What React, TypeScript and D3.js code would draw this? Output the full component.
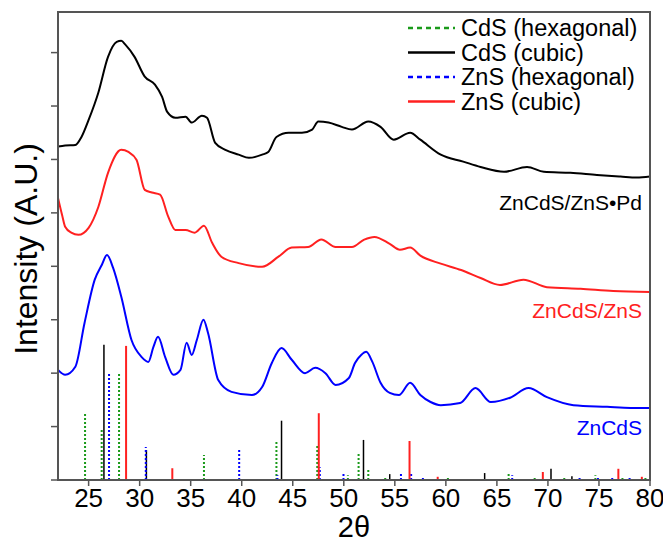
import React from "react";
import * as d3 from "d3";

// XRD patterns (2θ in degrees, intensity in arbitrary units, offset stacked)
const pdAngle = [22.0, 22.7, 23.7, 24.3, 25.0, 25.95, 26.9, 27.75, 28.2, 28.6, 29.5, 30.5, 31.5, 32.2, 32.7, 33.5, 34.5, 35.1, 36.1, 36.6, 37.4, 38.4, 39.7, 40.7, 42.0, 42.6, 43.4, 44.6, 45.9, 46.9, 47.5, 48.5, 49.8, 50.8, 52.4, 53.6, 54.9, 56.5, 57.5, 59.5, 61.7, 63.4, 65.7, 67.95, 69.6, 72.2, 74.8, 77.1, 78.7, 80.0];
const pdIntensity = [624, 626, 627, 642, 674, 725, 792, 820, 822, 815, 792, 755, 740, 717, 689, 678, 680, 669, 682, 678, 631, 618, 609, 603, 609, 614, 642, 650, 650, 656, 671, 669, 661, 656, 671, 661, 637, 650, 637, 609, 596, 586, 577, 586, 577, 575, 571, 568, 566, 568];

const shellAngle = [22.0, 22.4, 22.7, 23.3, 24.0, 25.0, 25.95, 26.9, 28.2, 28.9, 29.7, 30.5, 31.2, 32.0, 32.8, 33.5, 34.5, 35.4, 36.3, 37.1, 38.0, 39.7, 42.0, 43.6, 44.9, 46.5, 47.8, 49.2, 50.8, 52.0, 53.0, 54.5, 55.5, 56.5, 57.5, 59.5, 61.5, 63.4, 65.3, 67.6, 69.9, 73.2, 76.4, 80.0];
const shellIntensity = [528, 496, 474, 463, 459, 472, 511, 575, 618, 614, 599, 543, 538, 534, 493, 468, 468, 463, 476, 444, 418, 406, 399, 418, 435, 436, 450, 436, 436, 450, 455, 442, 431, 435, 420, 405, 393, 378, 365, 375, 361, 358, 354, 352];

const coreAngle = [22.0, 22.7, 23.7, 24.6, 25.6, 26.3, 26.8, 27.4, 28.2, 29.2, 30.2, 30.85, 31.35, 31.8, 32.5, 33.3, 34.0, 34.6, 35.1, 35.6, 36.25, 36.7, 37.7, 39.0, 41.0, 42.0, 42.95, 43.9, 44.9, 46.2, 47.2, 48.2, 49.2, 50.5, 51.1, 51.7, 52.2, 52.8, 53.6, 54.5, 55.4, 56.5, 57.5, 58.5, 59.5, 61.4, 62.9, 64.4, 66.3, 68.1, 69.9, 72.5, 75.8, 78.1, 80.0];
const coreIntensity = [206, 197, 212, 294, 375, 403, 421, 397, 343, 262, 230, 221, 249, 268, 230, 197, 206, 257, 234, 262, 300, 275, 187, 165, 159, 174, 219, 247, 225, 200, 210, 200, 178, 191, 219, 234, 240, 221, 182, 163, 159, 182, 159, 146, 140, 144, 172, 146, 154, 172, 155, 140, 137, 135, 135];

// Reference reflections
const cdsHexPos = [24.65, 26.28, 27.98, 36.3, 43.4, 47.4, 50.4, 51.45, 52.4, 54.06, 60.2, 66.15, 68.7, 71.6, 74.65, 77.3, 79.55];
const cdsHexInt = [125, 94, 200, 47, 75, 66, 9, 51, 22, 4, 4, 15, 6, 6, 9, 4, 6];
const cdsCubPos = [26.5, 30.66, 43.9, 51.93, 54.5, 63.8, 70.3, 72.35];
const cdsCubInt = [253, 56, 111, 75, 11, 13, 21, 7];
const znsHexPos = [27.0, 30.6, 39.75, 43.5, 47.65, 49.97, 55.6, 56.6, 57.75, 66.5, 73.1, 74.9, 76.3, 78.0];
const znsHexInt = [202, 62, 56, 9, 24, 11, 15, 13, 6, 9, 6, 6, 6, 4];
const znsCubPos = [28.67, 33.2, 47.55, 56.44, 59.2, 69.5, 76.9, 79.2];
const znsCubInt = [251, 22, 125, 73, 6, 15, 21, 6];

const xTicks = [25, 30, 35, 40, 45, 50, 55, 60, 65, 70, 75, 80];
const yTicks = [0, 100, 200, 300, 400, 500, 600, 700, 800];

const legendLabels = ["CdS (hexagonal)", "CdS (cubic)", "ZnS (hexagonal)", "ZnS (cubic)"];
const seriesLabels = ["ZnCdS/ZnS\u2022Pd", "ZnCdS/ZnS", "ZnCdS"];

const W = 663;
const H = 542;
const M = { left: 58, right: 13, top: 12, bottom: 62 };

const GREEN = "#1a9a1a";
const BLUE = "#0000ff";
const RED = "#ff2020";
const BLACK = "#000000";
const AXIS = "#555555";
const FONT = "Liberation Sans, Arial, sans-serif";

export default function App() {
  const x = d3.scaleLinear().domain([22, 80]).range([M.left, W - M.right]);
  const y = d3.scaleLinear().domain([0, 876]).range([H - M.bottom, M.top]);

  const line = (ax: number[], iy: number[]) =>
    d3
      .line<number>()
      .x((_, i) => x(ax[i]))
      .y((v) => y(v))
      .curve(d3.curveMonotoneX)(iy) as string;

  const patterns = [
    { ax: pdAngle, iy: pdIntensity, color: BLACK },
    { ax: shellAngle, iy: shellIntensity, color: RED },
    { ax: coreAngle, iy: coreIntensity, color: BLUE },
  ];

  const sticks = [
    { pos: cdsHexPos, int: cdsHexInt, color: GREEN, dash: "2,2", w: 2 },
    { pos: cdsCubPos, int: cdsCubInt, color: BLACK, dash: null, w: 1.5 },
    { pos: znsHexPos, int: znsHexInt, color: BLUE, dash: "2,2", w: 2 },
    { pos: znsCubPos, int: znsCubInt, color: RED, dash: null, w: 2 },
  ];
  const legendStyle = [
    { color: GREEN, dash: "5,4" },
    { color: BLACK, dash: null },
    { color: BLUE, dash: "5,4" },
    { color: RED, dash: null },
  ];

  const x0 = x.range()[0];
  const x1 = x.range()[1];
  const y0 = y.range()[0];
  const y1 = y.range()[1];

  const labelPos = [
    { y: 210, color: BLACK },
    { y: 318, color: RED },
    { y: 435, color: BLUE },
  ];

  return (
    <svg
      width={W}
      height={H}
      style={{ position: "absolute", left: 0, top: 0, background: "#fff" }}
      fontFamily={FONT}
    >
      <defs>
        <clipPath id="plot-area">
          <rect x={x0} y={y1} width={x1 - x0} height={y0 - y1} />
        </clipPath>
      </defs>

      {/* reference reflections */}
      <g clipPath="url(#plot-area)">
        {sticks.map((s, si) =>
          s.pos.map((p, i) => (
            <line
              key={`s${si}-${i}`}
              x1={x(p)}
              x2={x(p)}
              y1={y(0)}
              y2={y(s.int[i])}
              stroke={s.color}
              strokeWidth={s.w}
              strokeDasharray={s.dash ?? undefined}
            />
          ))
        )}
        {patterns.map((p, i) => (
          <path
            key={`p${i}`}
            d={line(p.ax, p.iy)}
            fill="none"
            stroke={p.color}
            strokeWidth={2}
            strokeLinejoin="round"
          />
        ))}
      </g>

      {/* frame */}
      <rect x={x0} y={y1} width={x1 - x0} height={y0 - y1} fill="none" stroke={AXIS} strokeWidth={2} />

      {/* x ticks */}
      {xTicks.map((t) => (
        <g key={`xt${t}`}>
          <line x1={x(t)} x2={x(t)} y1={y0} y2={y0 + 6} stroke={AXIS} strokeWidth={1.5} />
          <text x={x(t)} y={y0 + 27} textAnchor="middle" fontSize={26} fill="#000">
            {t}
          </text>
        </g>
      ))}

      {/* y ticks (no labels) */}
      {yTicks.map((t) => (
        <line key={`yt${t}`} x1={x0 - 7} x2={x0} y1={y(t)} y2={y(t)} stroke={AXIS} strokeWidth={1.5} />
      ))}

      {/* axis titles */}
      <text x={(x0 + x1) / 2} y={H - 5} textAnchor="middle" fontSize={29} fill="#000">
        2θ
      </text>
      <text
        transform={`translate(37, 249) rotate(-90)`}
        textAnchor="middle"
        fontSize={32}
        fill="#000"
      >
        Intensity (A.U.)
      </text>

      {/* legend */}
      {legendLabels.map((lab, i) => {
        const ly = 28 + i * 24.5;
        return (
          <g key={`lg${i}`}>
            <line
              x1={408}
              x2={455}
              y1={ly}
              y2={ly}
              stroke={legendStyle[i].color}
              strokeWidth={2.5}
              strokeDasharray={legendStyle[i].dash ?? undefined}
            />
            <text x={461} y={ly + 8} fontSize={23.5} fill="#000">
              {lab}
            </text>
          </g>
        );
      })}

      {/* sample labels */}
      {seriesLabels.map((lab, i) => (
        <text key={`sl${i}`} x={642} y={labelPos[i].y} textAnchor="end" fontSize={21} fill={labelPos[i].color}>
          {lab}
        </text>
      ))}
    </svg>
  );
}
